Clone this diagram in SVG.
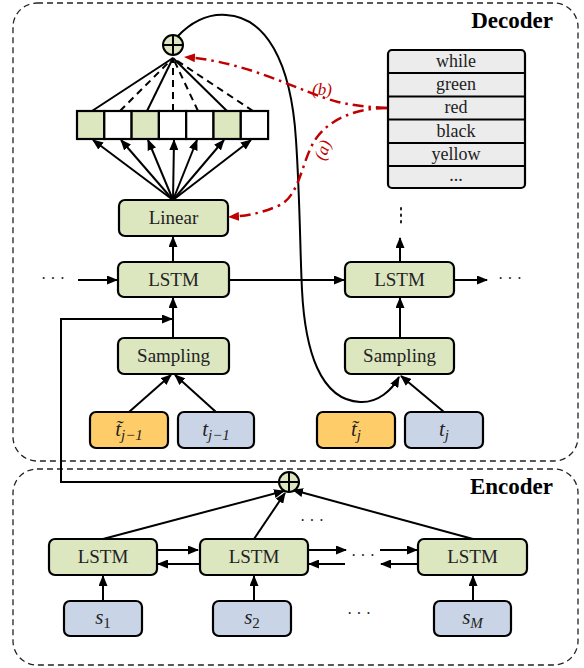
<svg xmlns="http://www.w3.org/2000/svg" width="584" height="668" viewBox="0 0 584 668">
<defs>
<marker id="ah" markerUnits="userSpaceOnUse" markerWidth="11" markerHeight="9" refX="10" refY="4.5" orient="auto"><path d="M0,0 L11,4.5 L0,9 z" fill="#000"/></marker>
<marker id="ahr" markerUnits="userSpaceOnUse" markerWidth="11" markerHeight="9" refX="10" refY="4.5" orient="auto"><path d="M0,0 L11,4.5 L0,9 z" fill="#c00000"/></marker>
<style>
.frame{fill:none;stroke:#222;stroke-width:1.3;stroke-dasharray:6 4}
.g{fill:#dce6bf;stroke:#000;stroke-width:2.2}
.o{fill:#fecd69;stroke:#000;stroke-width:2.2}
.b{fill:#c9d5e6;stroke:#000;stroke-width:2.2}
.w{fill:#fff;stroke:#000;stroke-width:2.2}
.v{fill:#ececec;stroke:#000;stroke-width:2.2}
.ln{fill:none;stroke:#000;stroke-width:2}
.a{fill:none;stroke:#000;stroke-width:2;marker-end:url(#ah)}
.d{fill:none;stroke:#000;stroke-width:2;stroke-dasharray:7 5}
.r{fill:none;stroke:#c00000;stroke-width:2.5;stroke-dasharray:11 5 2.5 5;marker-end:url(#ahr)}
.t{font-family:"Liberation Serif",serif;font-size:19px;text-anchor:middle;fill:#222}
.vt{font-family:"Liberation Serif",serif;font-size:18px;text-anchor:middle;fill:#222}
.m{font-family:"Liberation Serif",serif;font-size:21px;font-style:italic;text-anchor:middle;fill:#222}
.sub{font-size:15px}
.h{font-family:"Liberation Serif",serif;font-size:23px;font-weight:bold;fill:#000}
.rl{font-family:"Liberation Serif",serif;font-size:17px;font-style:italic;fill:#c00000;text-anchor:middle}
.dots{font-family:"Liberation Serif",serif;font-size:16px;fill:#222;text-anchor:middle}
</style>
</defs>
<rect class="frame" x="13" y="3" width="565" height="458" rx="24"/>
<rect class="frame" x="13" y="469" width="565" height="196" rx="24"/>
<text class="h" x="553" y="28" text-anchor="end">Decoder</text>
<text class="h" x="553" y="494" text-anchor="end">Encoder</text>

<g id="connectors">
<path class="a" d="M173 200 L93 140"/>
<path class="a" d="M173 200 L121 140"/>
<path class="a" d="M173 200 L148 140"/>
<path class="a" d="M173 200 L174 140"/>
<path class="a" d="M173 200 L197 140"/>
<path class="a" d="M173 200 L224 140"/>
<path class="a" d="M173 200 L251 140"/>
<path class="ln" d="M92 111 L173 58"/>
<path class="d" d="M120 111 L173 58"/>
<path class="ln" d="M147 111 L173 58"/>
<path class="d" d="M173 111 L173 58"/>
<path class="d" d="M198 111 L173 58"/>
<path class="ln" d="M227 111 L173 58"/>
<path class="d" d="M253 111 L173 58"/>
<path class="a" d="M173 262 L173 237"/>
<path class="a" d="M173 338 L173 298"/>
<path class="a" d="M400 262 L400 238"/>
<path class="a" d="M400 338 L400 298"/>
<path class="a" d="M78 280 L117 280"/>
<path class="a" d="M229 280 L344 280"/>
<path class="a" d="M454 280 L487 280"/>
<path class="a" d="M129 412 L171 375"/>
<path class="a" d="M216 412 L175 375"/>
<path class="a" d="M444 412 L401 376"/>
<path class="a" d="M177 37 C195 18 212 14 226 15 C265 17 291 60 296 140 C300 200 300 250 302 290 C305 350 320 400 360 402 C378 403 392 390 399 377"/>
<path class="a" d="M279 482 L61 482 L61 319 L172 319"/>
<path class="a" d="M103 539 L284 491"/>
<path class="a" d="M254 539 L285 493"/>
<path class="a" d="M473 539 L293 490"/>
<path class="a" d="M103 601 L103 576"/>
<path class="a" d="M254 601 L254 576"/>
<path class="a" d="M473 601 L473 576"/>
<path class="a" d="M157 550 L198 550"/>
<path class="a" d="M199 564 L158 564"/>
<path class="a" d="M308 550 L346 550"/>
<path class="a" d="M345 564 L309 564"/>
<path class="a" d="M380 550 L417 550"/>
<path class="a" d="M418 564 L381 564"/>
<path d="M401 208 L401 226" stroke="#222" stroke-width="2" stroke-dasharray="1.5 5" stroke-linecap="round"/>
<path class="r" d="M387 108 C370 107 355 106 338 102 C300 92 250 62 185 57"/>
<path class="r" d="M387 108 C355 108 328 120 315 140 C302 160 300 195 280 205 C260 214 245 216 229 217"/>
<text class="rl" x="322" y="95">(b)</text>
<text class="rl" transform="translate(328 152) rotate(-70)">(a)</text>
</g>

<g id="plus-dec"><circle cx="173" cy="45" r="10" fill="#dce6bf" stroke="#000" stroke-width="2"/><path d="M163 45 H183 M173 35 V55" stroke="#000" stroke-width="2"/></g>
<g id="plus-enc"><circle cx="289" cy="482" r="10" fill="#dce6bf" stroke="#000" stroke-width="2"/><path d="M279 482 H299 M289 472 V492" stroke="#000" stroke-width="2"/></g>

<g id="cells">
<rect class="g" x="77" y="111" width="27.3" height="28"/>
<rect class="w" x="104.3" y="111" width="27.3" height="28"/>
<rect class="g" x="131.6" y="111" width="27.3" height="28"/>
<rect class="w" x="158.9" y="111" width="27.3" height="28"/>
<rect class="w" x="186.2" y="111" width="27.3" height="28"/>
<rect class="g" x="213.5" y="111" width="27.3" height="28"/>
<rect class="w" x="240.8" y="111" width="27.3" height="28"/>
</g>

<g id="vocab">
<rect class="v" x="388" y="50" width="137" height="138" rx="4"/>
<path d="M388 73 H525 M388 96.5 H525 M388 119.5 H525 M388 143 H525 M388 166 H525" stroke="#000" stroke-width="2.2"/>
<text class="vt" x="456" y="67">while</text>
<text class="vt" x="456" y="90">green</text>
<text class="vt" x="456" y="113">red</text>
<text class="vt" x="456" y="137">black</text>
<text class="vt" x="456" y="160">yellow</text>
<text class="vt" x="456" y="181">...</text>
</g>

<g id="linear"><rect class="g" x="119" y="200" width="109" height="36" rx="6"/><text class="t" x="173.5" y="224">Linear</text></g>
<g id="lstm-d1"><rect class="g" x="118" y="262" width="111" height="35" rx="6"/><text class="t" x="173.5" y="286">LSTM</text></g>
<g id="lstm-d2"><rect class="g" x="345" y="262" width="109" height="35" rx="6"/><text class="t" x="399.5" y="286">LSTM</text></g>
<g id="samp-d1"><rect class="g" x="118" y="338" width="111" height="36" rx="6"/><text class="t" x="173.5" y="362">Sampling</text></g>
<g id="samp-d2"><rect class="g" x="345" y="338" width="109" height="36" rx="6"/><text class="t" x="399.5" y="362">Sampling</text></g>
<g id="tt1"><rect class="o" x="90" y="412" width="78" height="36" rx="6"/><text class="m" x="129" y="436">t&#771;<tspan class="sub" dy="4">j−1</tspan></text></g>
<g id="t1"><rect class="b" x="178" y="412" width="76" height="36" rx="6"/><text class="m" x="216" y="436">t<tspan class="sub" dy="4">j−1</tspan></text></g>
<g id="tt2"><rect class="o" x="317" y="412" width="78" height="36" rx="6"/><text class="m" x="356" y="436">t&#771;<tspan class="sub" dy="4">j</tspan></text></g>
<g id="t2"><rect class="b" x="405" y="412" width="78" height="36" rx="6"/><text class="m" x="444" y="436">t<tspan class="sub" dy="4">j</tspan></text></g>

<g id="lstm-e1"><rect class="g" x="49" y="539" width="108" height="36" rx="6"/><text class="t" x="103" y="563">LSTM</text></g>
<g id="lstm-e2"><rect class="g" x="200" y="539" width="108" height="36" rx="6"/><text class="t" x="254" y="563">LSTM</text></g>
<g id="lstm-e3"><rect class="g" x="418" y="539" width="109" height="36" rx="6"/><text class="t" x="472.5" y="563">LSTM</text></g>
<g id="s1"><rect class="b" x="64" y="601" width="78" height="35" rx="6"/><text class="m" x="103" y="624">s<tspan class="sub" dy="4" font-style="normal">1</tspan></text></g>
<g id="s2"><rect class="b" x="213" y="601" width="78" height="35" rx="6"/><text class="m" x="252" y="624">s<tspan class="sub" dy="4" font-style="normal">2</tspan></text></g>
<g id="sM"><rect class="b" x="434" y="601" width="77" height="35" rx="6"/><text class="m" x="472.5" y="624">s<tspan class="sub" dy="4">M</tspan></text></g>

<text class="dots" x="53" y="284">· · ·</text>
<text class="dots" x="510" y="284">· · ·</text>
<text class="dots" x="312" y="526">· · ·</text>
<text class="dots" x="363" y="561">· · ·</text>
<text class="dots" x="359" y="619">· · ·</text>
</svg>
